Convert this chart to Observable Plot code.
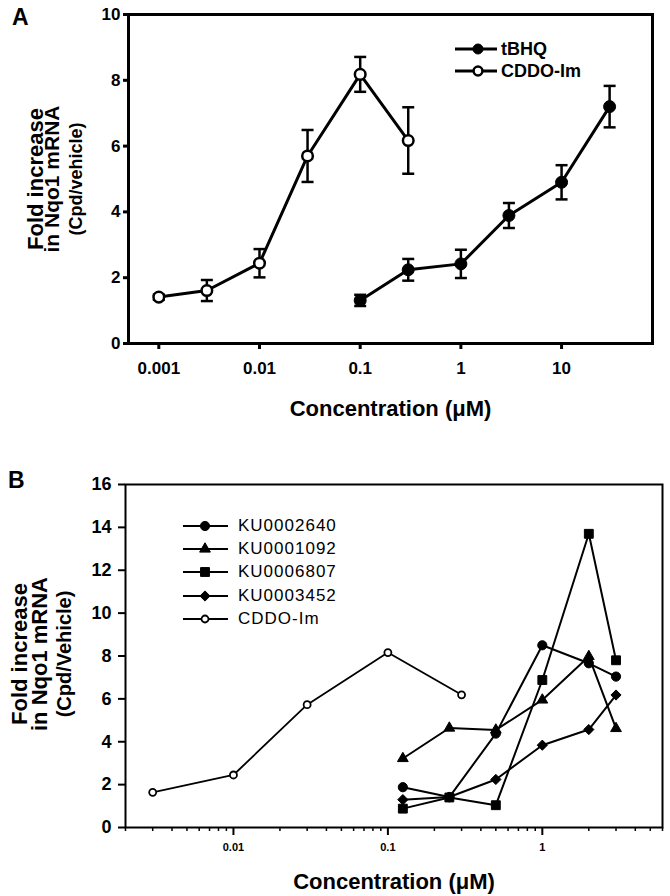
<!DOCTYPE html>
<html>
<head>
<meta charset="utf-8">
<script src="https://cdn.jsdelivr.net/npm/d3@7"></script>
<script src="https://cdn.jsdelivr.net/npm/@observablehq/plot@0.6"></script>
<style>
  html, body { margin: 0; padding: 0; background: #fff; }
  body { font-family: "Liberation Sans", Arial, Helvetica, sans-serif; color: #000; }
  #page { position: relative; width: 670px; height: 896px; overflow: hidden; background: #fff; }
  #a, #b { position: absolute; left: 0; }
  #a { top: 0; }
  #b { top: 440px; }
  .letter { position: absolute; font-weight: bold; font-size: 23px; line-height: 23px; }
  .lrow { position: absolute; display: flex; align-items: center; white-space: nowrap; height: 20px; }
  .lrow svg { display: block; flex: none; }
  .legA { font-weight: bold; font-size: 18px; }
  .legB { font-size: 17px; letter-spacing: 1px; }
</style>
</head>
<body>
<div id="page">
  <div id="a"></div>
  <div id="b"></div>
  <div class="letter" style="left:12px;top:6px;">A</div>
  <div class="letter" style="left:8px;top:469px;">B</div>
  <div id="legendA"></div>
  <div id="legendB"></div>
</div>
<script>
// ---------------- Panel A data ----------------
const concTbhqA   = [0.1, 0.3, 1, 3, 10, 30];
const meanTbhqA   = [1.31, 2.24, 2.42, 3.89, 4.90, 7.20];
const errTbhqA    = [0.17, 0.33, 0.43, 0.38, 0.52, 0.63];
const concCddoA   = [0.001, 0.003, 0.01, 0.03, 0.1, 0.3];
const meanCddoA   = [1.41, 1.61, 2.44, 5.70, 8.18, 6.17];
const errCddoA    = [0.08, 0.32, 0.43, 0.79, 0.53, 1.01];
const xTicksA     = [0.001, 0.01, 0.1, 1, 10];
const xTickLabelsA = ["0.001", "0.01", "0.1", "1", "10"];
const yTicksA     = [0, 2, 4, 6, 8, 10];
const seriesA     = ["tBHQ", "CDDO-Im"];

// ---------------- Panel B data ----------------
const concKuB     = [0.125, 0.25, 0.5, 1, 2, 3];
const ku0002640   = [1.88, 1.42, 4.38, 8.50, 7.66, 7.04];
const ku0001092   = [3.22, 4.64, 4.55, 5.95, 7.98, 4.62];
const ku0006807   = [0.88, 1.40, 1.04, 6.88, 13.70, 7.80];
const ku0003452   = [1.30, 1.42, 2.24, 3.84, 4.57, 6.18];
const concCddoB   = [0.003, 0.01, 0.03, 0.1, 0.3];
const meanCddoB   = [1.64, 2.45, 5.73, 8.16, 6.19];
const xTicksB     = [0.01, 0.1, 1];
const xTickLabelsB = ["0.01", "0.1", "1"];
const yTicksB     = [0, 2, 4, 6, 8, 10, 12, 14, 16];
const seriesB     = ["KU0002640", "KU0001092", "KU0006807", "KU0003452", "CDDO-Im"];

// ---------------- tables ----------------
const rowsA = [
  ...concTbhqA.map((x, i) => ({series: seriesA[0], x, y: meanTbhqA[i], e: errTbhqA[i]})),
  ...concCddoA.map((x, i) => ({series: seriesA[1], x, y: meanCddoA[i], e: errCddoA[i]}))
];
const kuValues = [ku0002640, ku0001092, ku0006807, ku0003452];
const rowsB = [
  ...kuValues.flatMap((vals, s) => concKuB.map((x, i) => ({series: seriesB[s], x, y: vals[i]}))),
  ...concCddoB.map((x, i) => ({series: seriesB[4], x, y: meanCddoB[i]}))
];

const font = "'Liberation Sans', Arial, Helvetica, sans-serif";
const capSymbol = {
  draw(ctx, size) { const w = Math.sqrt(size / Math.PI); ctx.moveTo(-w, 0); ctx.lineTo(w, 0); }
};
const ytitle = (txt, dx, fs, dy = 0) =>
  Plot.text([txt], {text: d => d, frameAnchor: "left", dx, dy, rotate: -90, fontSize: fs,
    fontWeight: "bold", textAnchor: "middle", lineAnchor: "middle", fill: "#000"});

// ---------------- Panel A ----------------
const plotA = Plot.plot({
  width: 670, height: 440,
  marginTop: 14, marginRight: 18, marginBottom: 97, marginLeft: 128,
  style: {fontFamily: font, background: "transparent", color: "#000", overflow: "visible"},
  x: {type: "log", domain: [0.0005, 80]},
  y: {domain: [0, 10]},
  marks: [
    Plot.axisY({ticks: yTicksA, tickSize: 5, tickPadding: 3, strokeWidth: 3,
      fontSize: 17, fontWeight: "bold", label: null}),
    Plot.axisX({ticks: xTicksA, tickFormat: d => xTickLabelsA[xTicksA.indexOf(d)],
      tickSize: 6, tickPadding: 12, strokeWidth: 3, fontSize: 17, fontWeight: "bold", label: null}),
    Plot.frame({stroke: "#000", strokeWidth: 3}),
    Plot.ruleX(rowsA, {x: "x", y1: d => d.y - d.e, y2: d => d.y + d.e, stroke: "#000", strokeWidth: 2.5}),
    Plot.dot(rowsA, {x: "x", y: d => d.y + d.e, symbol: capSymbol, r: 6, fill: "none", stroke: "#000", strokeWidth: 2.5}),
    Plot.dot(rowsA, {x: "x", y: d => d.y - d.e, symbol: capSymbol, r: 6, fill: "none", stroke: "#000", strokeWidth: 2.5}),
    Plot.line(rowsA, {x: "x", y: "y", z: "series", stroke: "#000", strokeWidth: 3}),
    Plot.dot(rowsA.filter(d => d.series === seriesA[0]), {x: "x", y: "y", r: 6, fill: "#000", stroke: "#000", strokeWidth: 1}),
    Plot.dot(rowsA.filter(d => d.series === seriesA[1]), {x: "x", y: "y", r: 5.3, fill: "#fff", stroke: "#000", strokeWidth: 2.5}),
    ytitle("Fold increase", -93, 22),
    ytitle("in Nqo1 mRNA", -76, 21),
    ytitle("(Cpd/vehicle)", -52, 18),
    Plot.text(["Concentration (μM)"], {text: d => d, frameAnchor: "bottom", dy: 65, fontSize: 22,
      fontWeight: "bold", lineAnchor: "middle", fill: "#000"})
  ]
});
document.getElementById("a").append(plotA);

// ---------------- Panel B ----------------
const minorTicksB = d3.scaleLog().domain([0.002, 6]).ticks().filter(t => !xTicksB.some(m => Math.abs(m - t) < 1e-12));
const symB = {KU0002640: "circle", KU0001092: "triangle", KU0006807: "square", KU0003452: "diamond2", "CDDO-Im": "circle"};
const rB   = {KU0002640: 4.6, KU0001092: 4.0, KU0006807: 5.0, KU0003452: 4.6, "CDDO-Im": 3.5};

const plotB = Plot.plot({
  width: 670, height: 456,
  marginTop: 44, marginRight: 8, marginBottom: 69, marginLeft: 125,
  style: {fontFamily: font, background: "transparent", color: "#000", overflow: "visible"},
  x: {type: "log", domain: [0.002, 6]},
  y: {domain: [0, 16]},
  marks: [
    Plot.axisY({ticks: yTicksB, tickSize: 7, tickPadding: 7, strokeWidth: 2,
      fontSize: 18, fontWeight: "bold", label: null}),
    Plot.axisX({ticks: minorTicksB, tickFormat: () => "", tickSize: 4, strokeWidth: 1.5, label: null}),
    Plot.axisX({ticks: xTicksB, tickFormat: d => xTickLabelsB[xTicksB.indexOf(d)],
      tickSize: 8, tickPadding: 8, strokeWidth: 2, fontSize: 11, fontWeight: "bold", label: null}),
    Plot.frame({stroke: "#000", strokeWidth: 2}),
    ...seriesB.map(s => Plot.line(rowsB.filter(d => d.series === s),
      {x: "x", y: "y", stroke: "#000", strokeWidth: s === "CDDO-Im" ? 1.8 : 2})),
    ...seriesB.map(s => Plot.dot(rowsB.filter(d => d.series === s),
      {x: "x", y: "y", symbol: symB[s], r: rB[s],
       fill: s === "CDDO-Im" ? "#fff" : "#000", stroke: "#000", strokeWidth: s === "CDDO-Im" ? 1.8 : 1})),
    ytitle("Fold increase", -106, 22, -2),
    ytitle("in Nqo1 mRNA", -86, 22, -2),
    ytitle("(Cpd/Vehicle)", -61, 20, -2),
    Plot.text(["Concentration (μM)"], {text: d => d, frameAnchor: "bottom", dy: 54, fontSize: 22,
      fontWeight: "bold", lineAnchor: "middle", fill: "#000"})
  ]
});
document.getElementById("b").append(plotB);

// ---------------- Legends (HTML) ----------------
function legendRow(parent, left, cy, lineW, markerX, sym, r, fill, strokeW, lineSW, label, cls, gap) {
  const row = document.createElement("div");
  row.className = "lrow " + cls;
  row.style.left = left + "px";
  row.style.top = (cy - 10) + "px";
  const svg = d3.create("svg").attr("width", lineW).attr("height", 20);
  svg.append("line").attr("x1", 0).attr("x2", lineW).attr("y1", 10).attr("y2", 10)
    .attr("stroke", "#000").attr("stroke-width", lineSW);
  const symbolType = {circle: d3.symbolCircle, triangle: d3.symbolTriangle, square: d3.symbolSquare, diamond2: d3.symbolDiamond2}[sym];
  svg.append("path").attr("d", d3.symbol(symbolType, Math.PI * r * r)())
    .attr("transform", `translate(${markerX},10)`)
    .attr("fill", fill).attr("stroke", "#000").attr("stroke-width", strokeW);
  row.append(svg.node());
  const span = document.createElement("span");
  span.textContent = label;
  span.style.marginLeft = gap + "px";
  row.append(span);
  parent.append(row);
}
const legA = document.getElementById("legendA");
const legARows = [49, 71];
seriesA.forEach((s, i) => legendRow(legA, 455, legARows[i], 42, 23,
  "circle", s === "tBHQ" ? 5 : 4.4, s === "tBHQ" ? "#000" : "#fff", s === "tBHQ" ? 1 : 2.5, 3, s, "legA", 4));

const legB = document.getElementById("legendB");
const legBRows = [525.5, 548.5, 572, 596, 619];
seriesB.forEach((s, i) => legendRow(legB, 183, legBRows[i], 45, 22,
  symB[s], rB[s], s === "CDDO-Im" ? "#fff" : "#000", s === "CDDO-Im" ? 1.8 : 1, 2, s, "legB", 10));
</script>
</body>
</html>
